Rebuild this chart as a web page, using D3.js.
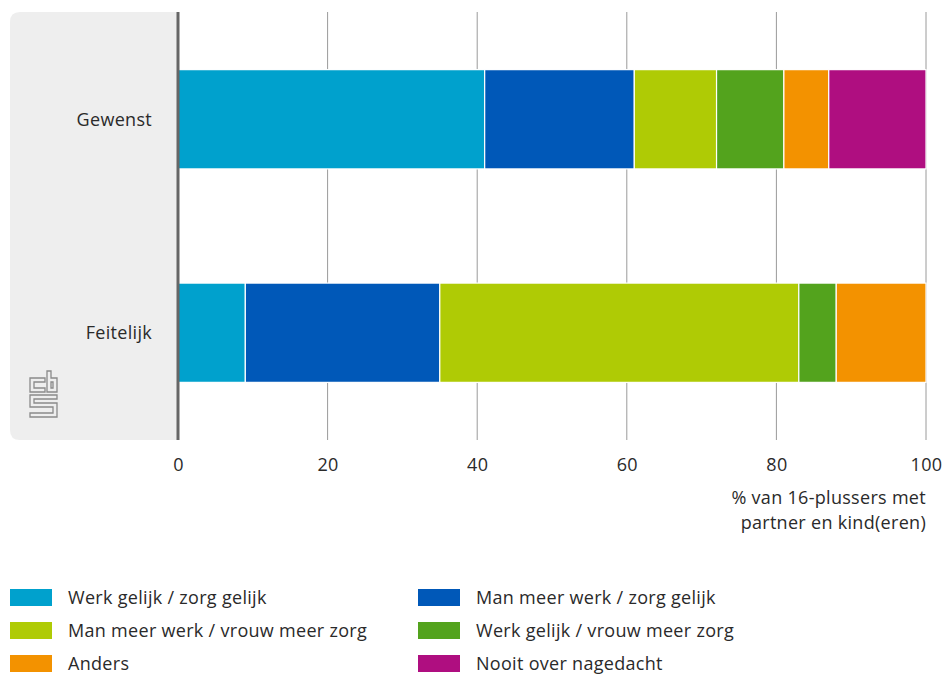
<!DOCTYPE html>
<html><head><meta charset="utf-8">
<script src="https://cdn.jsdelivr.net/npm/d3@7"></script>
<style>
body{margin:0;background:#fff;}
text{font-family:"Open Sans","Noto Sans",sans-serif;fill:#2a2a2a;letter-spacing:0.3px;}
</style></head>
<body><svg id="c" width="945" height="675"></svg>
<script>
const categories = ["Gewenst", "Feitelijk"];
const seriesNames = ["Werk gelijk / zorg gelijk","Man meer werk / zorg gelijk","Man meer werk / vrouw meer zorg","Werk gelijk / vrouw meer zorg","Anders","Nooit over nagedacht"];
const seriesColors = ["#00a1cd","#0058b8","#afcb05","#53a31d","#f39200","#af0e80"];
const gewenst = [41, 20, 11, 9, 6, 13];
const feitelijk = [9, 26, 48, 5, 12, 0];
const xTicks = [0, 20, 40, 60, 80, 100];
const axisTitle = ["% van 16-plussers met", "partner en kind(eren)"];

const FONT = '"Open Sans","Noto Sans",sans-serif';
const FS = 18;
const svg = d3.select("#c");
const x = d3.scaleLinear().domain([0,100]).range([178,926]);
const y = d3.scaleBand().domain(categories).range([12,440]).paddingInner(0.535).paddingOuter(0.27);
const pTop = 12, pBottom = 440;

// panel
svg.append("path").attr("fill","#eeeeee")
  .attr("d", `M178,${pTop} L20,${pTop} Q10,${pTop} 10,${pTop+10} L10,${pBottom-10} Q10,${pBottom} 20,${pBottom} L178,${pBottom} Z`);

// grid
svg.append("g").selectAll("line").data(xTicks.filter(d=>d>0)).join("line")
  .attr("x1",d=>x(d)).attr("x2",d=>x(d)).attr("y1",pTop).attr("y2",pBottom)
  .attr("stroke","#9a9a9a").attr("stroke-width",1);

// bars
const data = {Gewenst: gewenst, Feitelijk: feitelijk};
categories.forEach(cat=>{
  let acc = 0;
  const segs = data[cat].map((v,i)=>{const s={x0:acc,x1:acc+v,i}; acc+=v; return s;}).filter(s=>s.x1>s.x0);
  svg.append("g").selectAll("rect").data(segs).join("rect")
    .attr("x",d=>x(d.x0)).attr("width",d=>x(d.x1)-x(d.x0))
    .attr("y",y(cat)).attr("height",y.bandwidth())
    .attr("fill",d=>seriesColors[d.i]).attr("stroke","#fff").attr("stroke-width",1.2);
});

// axis line
svg.append("line").attr("x1",178).attr("x2",178).attr("y1",pTop).attr("y2",pBottom)
  .attr("stroke","#666").attr("stroke-width",3);

// category labels
svg.append("g").selectAll("text").data(categories).join("text")
  .attr("x",152).attr("y",d=>y(d)+y.bandwidth()/2).attr("dy","0.35em")
  .attr("text-anchor","end").attr("font-size",FS).text(d=>d);

// x ticks
const xa = d3.axisBottom(x).tickValues(xTicks).tickSize(0).tickPadding(0);
const g = svg.append("g").attr("transform",`translate(0,${pBottom})`).call(xa);
g.select(".domain").remove();
g.selectAll("text").attr("y",31).attr("dy",0).attr("font-size",FS).attr("fill","#2a2a2a")
  .style("font-family",FONT);

// axis title
svg.append("g").selectAll("text").data(axisTitle).join("text")
  .attr("x",926).attr("y",(d,i)=>504+i*25).attr("text-anchor","end").attr("font-size",FS).text(d=>d);

// logo
const logo = svg.append("g").attr("fill","none").attr("stroke","#8a8a8a").attr("stroke-width",1.3);
logo.append("path").attr("d","M45,378 H30 V392 H45 V388 H34 V382 H45 Z");
logo.append("path").attr("d","M47,371 H51 V378 H57 V392 H47 Z M51,382 H53 V388 H51 Z");
logo.append("path").attr("d","M57,395 H30 V407 H53 V413 H30 V417 H57 V403 H34 V399 H57 Z");

// legend
const leg = svg.append("g");
seriesNames.forEach((n,i)=>{
  const col = i%2, row = Math.floor(i/2);
  const lx = col===0 ? 10 : 418, ly = 589 + row*33;
  leg.append("rect").attr("x",lx).attr("y",ly).attr("width",42).attr("height",17).attr("fill",seriesColors[i]);
  leg.append("text").attr("x",lx+58).attr("y",ly+8.5).attr("dy","0.35em").attr("font-size",FS).text(n);
});
</script></body></html>
